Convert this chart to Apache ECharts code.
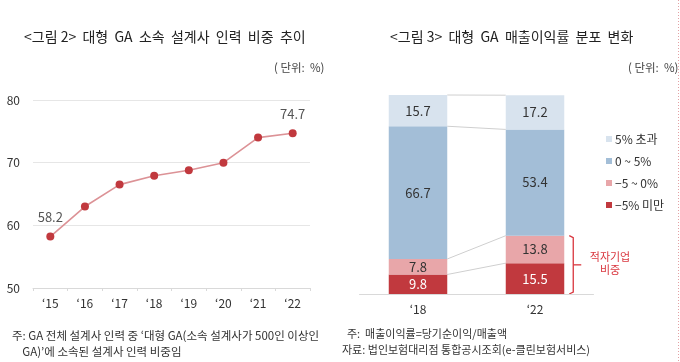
<!DOCTYPE html>
<html><head><meta charset="utf-8">
<script src="https://cdn.jsdelivr.net/npm/echarts@6/dist/echarts.min.js"></script>
<style>html,body{margin:0;padding:0;background:#fff}#c{width:680px;height:362px}</style>
</head><body><div id="c"></div>
<script>
// Left chart data
const years = ['‘15','‘16','‘17','‘18','‘19','‘20','‘21','‘22'];
const share = [58.2, 63.0, 66.5, 67.9, 68.8, 70.0, 74.0, 74.7];
const yTicks = [50, 60, 70, 80];
// Right chart data
const periods = ['‘18','‘22'];
const segNames = ['−5% 미만','−5 ~ 0%','0 ~ 5%','5% 초과'];
const under5 = [9.8, 15.5];
const minus5to0 = [7.8, 13.8];
const zeroTo5 = [66.7, 53.4];
const over5 = [15.7, 17.2];

const F = '"Noto Sans CJK KR", "Noto Sans", sans-serif';
const segData = [under5, minus5to0, zeroTo5, over5];
const segColors = ['#c1393e', '#e8a6a9', '#a3bed7', '#d8e3ee'];
const labelColors = ['#ffffff', '#333333', '#333333', '#333333'];

// cumulative boundaries for connecting lines
const bounds = [];
let acc = [0, 0];
segData.forEach(s => { acc = [acc[0] + s[0], acc[1] + s[1]]; bounds.push([+acc[0].toFixed(1), +acc[1].toFixed(1)]); });

const chart = echarts.init(document.getElementById('c'), null, {renderer: 'canvas'});

const barSeries = segData.map((d, i) => ({
  name: segNames[i], type: 'bar', stack: 'r', xAxisIndex: 1, yAxisIndex: 1,
  barWidth: '50%', data: d, z: 3,
  itemStyle: {color: segColors[i]},
  label: {show: true, position: 'inside', color: labelColors[i], fontSize: 13, fontFamily: F},
  emphasis: {disabled: true}
}));

const option = {
  animation: false,
  textStyle: {fontFamily: F},
  title: [
    {text: '<그림 2>  대형  GA  소속  설계사  인력  비중  추이', left: 19, top: 25, textStyle: {fontSize: 14, fontWeight: 'normal', color: '#222', fontFamily: F}},
    {text: '( 단위:  %)', left: 269, top: 57, textStyle: {fontSize: 11.5, fontWeight: 'normal', color: '#444', fontFamily: F}},
    {text: '<그림 3>  대형  GA  매출이익률  분포  변화', left: 385, top: 25, textStyle: {fontSize: 14, fontWeight: 'normal', color: '#222', fontFamily: F}},
    {text: '( 단위:  %)', left: 623, top: 57, textStyle: {fontSize: 11.5, fontWeight: 'normal', color: '#444', fontFamily: F}},
    {text: '주: GA 전체 설계사 인력 중 ‘대형 GA(소속 설계사가 500인 이상인\n    GA)’에 소속된 설계사 인력 비중임', left: 7, top: 323,
      textStyle: {fontSize: 11.5, fontWeight: 'normal', color: '#333', lineHeight: 16, fontFamily: F}},
    {text: '  주:  매출이익률=당기순이익/매출액\n자료: 법인보험대리점 통합공시조회(e-클린보험서비스)', left: 337, top: 321,
      textStyle: {fontSize: 11, fontWeight: 'normal', color: '#333', lineHeight: 16, fontFamily: F}}
  ],
  legend: {
    data: ['5% 초과','0 ~ 5%','−5 ~ 0%','−5% 미만'],
    orient: 'vertical', left: 601, top: 128, itemWidth: 6, itemHeight: 6, itemGap: 10,
    icon: 'rect', selectedMode: false,
    textStyle: {fontSize: 12, color: '#333', fontFamily: F, padding: [0, 0, 0, -2]}
  },
  grid: [
    {left: 33, top: 100, width: 277, height: 188},
    {left: 359.5, top: 95, width: 234, height: 199}
  ],
  xAxis: [
    {type: 'category', gridIndex: 0, data: years, boundaryGap: true,
      axisLine: {lineStyle: {color: '#d9d9d9'}},
      axisTick: {show: true, length: 3, lineStyle: {color: '#d9d9d9'}},
      axisLabel: {color: '#333', fontSize: 12, margin: 9, fontFamily: F}},
    {type: 'category', gridIndex: 1, data: periods,
      axisLine: {lineStyle: {color: '#d9d9d9'}},
      axisTick: {show: false},
      axisLabel: {color: '#333', fontSize: 12, margin: 9, fontFamily: F}}
  ],
  yAxis: [
    {type: 'value', gridIndex: 0, min: yTicks[0], max: yTicks[yTicks.length-1], interval: 10,
      axisLine: {show: false}, axisTick: {show: false},
      axisLabel: {color: '#333', fontSize: 12, margin: 13, fontFamily: F},
      splitLine: {lineStyle: {color: '#e6e6e6'}}},
    {type: 'value', gridIndex: 1, min: 0, max: 100, show: false, splitLine: {show: false}}
  ],
  series: [
    {type: 'line', xAxisIndex: 0, yAxisIndex: 0, data: share,
      symbol: 'circle', symbolSize: 8,
      lineStyle: {color: '#dc9296', width: 1.6},
      itemStyle: {color: '#c1393e'},
      label: {show: true, position: 'top', distance: 9, color: '#555', fontSize: 13, fontFamily: F,
        formatter: p => (p.dataIndex === 0 || p.dataIndex === share.length - 1) ? p.value.toFixed(1) : ''},
      emphasis: {disabled: true}},
    ...barSeries,
    {type: 'custom', xAxisIndex: 1, yAxisIndex: 1, z: 2, silent: true,
      data: bounds,
      renderItem: (params, api) => {
        const p1 = api.coord([0, api.value(0)]);
        const p2 = api.coord([1, api.value(1)]);
        const band = api.size([1, 0])[0];
        const hw = band * 0.25;
        return {type: 'line', shape: {x1: p1[0] + hw, y1: p1[1], x2: p2[0] - hw, y2: p2[1]},
          style: {stroke: '#cfcfcf', lineWidth: 1}};
      },
      encode: {x: -1, y: -1}}
  ]
};
chart.setOption(option);

// Bracket for loss-making share on '22 bar
const loss22 = +(under5[1] + minus5to0[1]).toFixed(1);
const pTop = chart.convertToPixel({xAxisIndex: 1, yAxisIndex: 1}, [1, loss22]);
const pBot = chart.convertToPixel({xAxisIndex: 1, yAxisIndex: 1}, [1, 0]);
const band = 234 / periods.length;
const bx = pTop[0] + band * 0.25 + 5;
const midY = (pTop[1] + pBot[1]) / 2;
chart.setOption({graphic: [
  {type: 'polyline', shape: {points: [[bx, pTop[1]], [bx + 4, pTop[1] + 2], [bx + 4, pBot[1] - 2], [bx, pBot[1]]]},
    style: {stroke: '#d9363e', lineWidth: 1.3, fill: null}},
  {type: 'line', shape: {x1: bx + 4, y1: midY, x2: bx + 12, y2: midY}, style: {stroke: '#d9363e', lineWidth: 1.3}},
  {type: 'text', x: 610, y: midY - 2, style: {text: '적자기업\n비중', fill: '#d9363e', fontSize: 11, fontFamily: F,
    align: 'center', verticalAlign: 'middle', lineHeight: 13}},
  {type: 'line', shape: {x1: 678.5, y1: 0, x2: 678.5, y2: 362}, style: {stroke: '#e3a1a4', lineWidth: 1, lineDash: [1, 2]}}
]});
</script></body></html>
